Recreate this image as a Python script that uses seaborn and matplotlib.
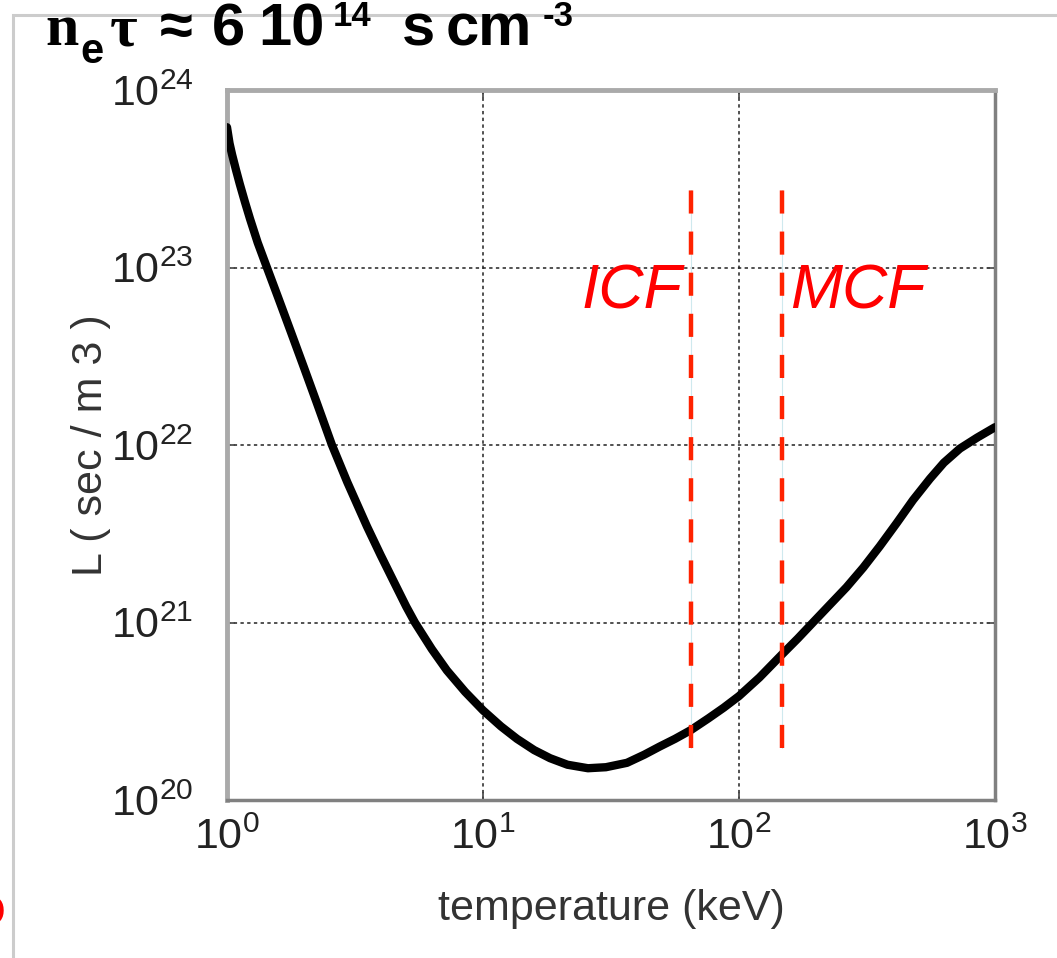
import numpy as np
import pandas as pd
import matplotlib
matplotlib.use("Agg")
import matplotlib.pyplot as plt
import seaborn as sns
from matplotlib.patches import Rectangle
from matplotlib.ticker import NullLocator

# ---------------- data ----------------
temperature_keV = [1.000, 1.023, 1.047, 1.084, 1.122, 1.175, 1.230, 1.318, 1.432, 1.585,
                   1.778, 1.995, 2.239, 2.570, 2.951, 3.524, 3.981, 4.446, 5.012, 5.420,
                   6.310, 7.228, 8.511, 10.0, 11.75, 13.58, 15.85, 18.28, 21.38, 25.70,
                   30.20, 36.52, 42.66, 48.98, 56.23, 64.94, 75.86, 87.10, 100.0, 120.2,
                   147.2, 169.8, 194.5, 226.5, 263.0, 305.9, 354.8, 413.0, 478.6, 557.2,
                   631.0, 729.5, 851.1, 1000.0]
L_sec_m3 = [6.17e23, 5.01e23, 4.32e23, 3.55e23, 2.95e23, 2.34e23, 1.88e23, 1.38e23, 1.00e23, 6.76e22,
            4.32e22, 2.75e22, 1.74e22, 1.00e22, 6.17e21, 3.47e21, 2.40e21, 1.74e21, 1.23e21, 1.00e21,
            7.08e20, 5.37e20, 4.07e20, 3.20e20, 2.60e20, 2.21e20, 1.91e20, 1.72e20, 1.58e20, 1.51e20,
            1.53e20, 1.62e20, 1.80e20, 2.00e20, 2.21e20, 2.48e20, 2.88e20, 3.31e20, 3.85e20, 4.90e20,
            6.61e20, 8.13e20, 1.00e21, 1.26e21, 1.58e21, 2.04e21, 2.69e21, 3.63e21, 4.90e21, 6.46e21,
            7.94e21, 9.55e21, 1.10e22, 1.26e22]

icf_T = 65.0
mcf_T = 147.0
marker_span = [1.96e20, 2.74e23]
region_labels = ["ICF", "MCF"]

x_ticks = [1, 10, 100, 1000]
y_ticks = [1e20, 1e21, 1e22, 1e23, 1e24]

W, H = 1057, 958

def fx(px):
    return px / W

def fy(py):
    return 1 - py / H

# ---------------- style ----------------
sns.set_theme(style="white")
plt.rcParams["font.family"] = ["Liberation Sans", "DejaVu Sans"]

fig = plt.figure(figsize=(W / 100, H / 100), dpi=100)
fig.patch.set_facecolor("white")

ax = fig.add_axes([fx(227), fy(800), (995 - 227) / W, (800 - 90) / H])

df = pd.DataFrame({"T": temperature_keV, "L": L_sec_m3})
sns.lineplot(data=df, x="T", y="L", ax=ax, color="black", linewidth=6.0,
             sort=False, estimator=None, zorder=5)
ax.lines[-1].set_solid_joinstyle("round")

ax.set_xscale("log")
ax.set_yscale("log")
ax.set_xlim(1, 1000)
ax.set_ylim(1e20, 1e24)
ax.set_xticks(x_ticks)
ax.set_yticks(y_ticks)
ax.xaxis.set_minor_locator(NullLocator())
ax.yaxis.set_minor_locator(NullLocator())

ax.grid(True, which="major", color="#222222", linestyle=(0, (2.2, 2.2)), linewidth=1.1)
ax.set_axisbelow(True)

# ICF / MCF markers
for T in (icf_T, mcf_T):
    ax.plot([T, T], marker_span, color="#cfe9ee", lw=0.8, zorder=6)
    ax.plot([T, T], marker_span, color="#ff2200", lw=3.2, dashes=(5.2, 4.05),
            dash_capstyle="butt", zorder=7)

ax.text(59.9, 5.9e22, region_labels[0], ha="right", va="baseline",
        color="#ff0000", fontsize=45, style="italic", zorder=8)
ax.text(158, 5.9e22, region_labels[1], ha="left", va="baseline",
        color="#ff0000", fontsize=45, style="italic", zorder=8)

# ticks, labels, spines
ax.tick_params(which="major", direction="in", length=6, width=1.2, color="#444444",
               labelsize=31, labelcolor="#222222", top=True, right=True,
               bottom=True, left=True)
ax.tick_params(axis="x", pad=13)
ax.tick_params(axis="y", pad=24)

ax.set_xlabel("temperature (keV)", fontsize=31, color="#333333", labelpad=22)
ax.set_ylabel("L ( sec / m 3 )", fontsize=31, color="#333333", labelpad=0)

for side in ("left", "top"):
    ax.spines[side].set_color("#aaaaaa")
    ax.spines[side].set_linewidth(3.5)
for side in ("bottom", "right"):
    ax.spines[side].set_color("#808080")
    ax.spines[side].set_linewidth(2.5)

# outer light-grey frame
fig.patches.append(Rectangle((fx(13), -0.1), 1.2, fy(15) + 0.1, transform=fig.transFigure,
                             fill=False, edgecolor="#cccccc", lw=2.2, zorder=0))

# title pieces
serif = ["Liberation Serif", "DejaVu Serif"]
sans = ["Liberation Sans", "DejaVu Sans"]
big, small = 43, 25
tkw = dict(va="baseline", ha="left", color="black", fontweight="bold")
fig.text(fx(45), fy(45), "n", family=serif, fontsize=big, **tkw)
fig.text(fx(80), fy(63), "e", family=sans, fontsize=30, **tkw)
fig.text(fx(110), fy(45), "τ", family=serif, fontsize=big, **tkw)
fig.text(fx(160), fy(45), "≈", family=sans, fontsize=big, **tkw)
fig.text(fx(212), fy(45), "6", family=sans, fontsize=big, **tkw)
fig.text(fx(258), fy(45), "10", family=sans, fontsize=big, **tkw)
fig.text(fx(333), fy(26), "14", family=sans, fontsize=small, **tkw)
fig.text(fx(402), fy(45), "s", family=sans, fontsize=big, **tkw)
fig.text(fx(446), fy(45), "cm", family=sans, fontsize=big, **tkw)
fig.text(fx(543), fy(26), "-3", family=sans, fontsize=small, **tkw)

# cut-off red glyph at the lower-left edge (as in the reference)
fig.text(fx(6), fy(912), "o", ha="right", va="center", color="#ff0000", fontsize=40, fontweight="bold")

fig.savefig("out.png", dpi=100)
